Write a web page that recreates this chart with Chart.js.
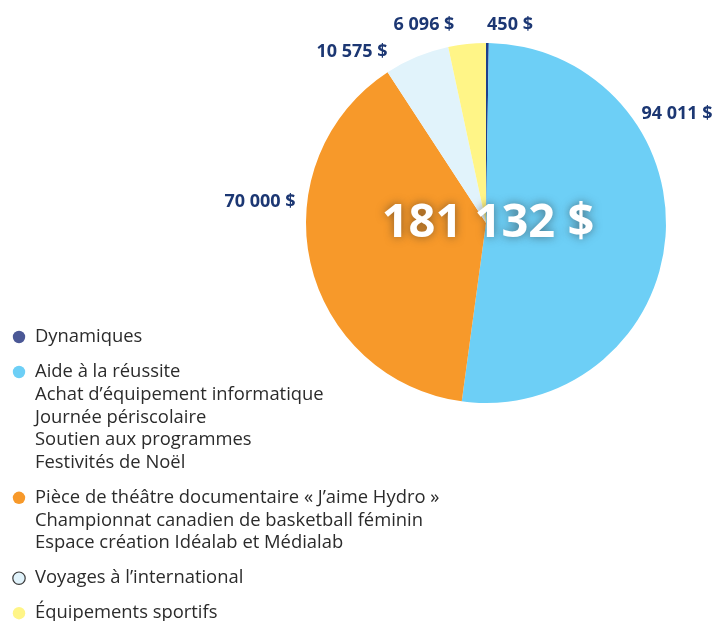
<!DOCTYPE html>
<html lang="fr">
<head>
<meta charset="utf-8">
<title>Dons 181 132 $</title>
<script src="https://cdn.jsdelivr.net/npm/chart.js@4/dist/chart.umd.min.js"></script>
<style>
  html, body { margin: 0; padding: 0; background: #fff; }
  #chart { display: block; }
</style>
</head>
<body>
<canvas id="chart" width="728" height="621"></canvas>
<script>
// data, clockwise from 12 o'clock
const categories = [
  'Dynamiques',
  'Aide à la réussite',
  'Pièce de théâtre documentaire « J’aime Hydro »',
  'Voyages à l’international',
  'Équipements sportifs'
]
const subItems = [
  [],
  ['Achat d’équipement informatique', 'Journée périscolaire', 'Soutien aux programmes', 'Festivités de Noël'],
  ['Championnat canadien de basketball féminin', 'Espace création Idéalab et Médialab'],
  [],
  []
]
const amounts = [450, 94011, 70000, 10575, 6096]

// styling / layout, kept apart from the values
const sliceColors = ['#1d3f8c', '#6dcff6', '#f7992a', '#e1f3fb', '#fff587']
const markerColors = ['#4b5896', '#6dcff6', '#f7992a', '#e1f3fb', '#fff587']
const markerBorders = [null, null, null, '#3a3a3a', null]
// text centre of each amount label, relative to the pie centre
const labelOffsets = [[24, -198], [191, -109], [-226, -21], [-134, -171], [-62, -198]]

const money = (n) => String(n).replace(/\B(?=(\d{3})+(?!\d))/g, ' ') + ' $'

const overlay = {
  id: 'overlay',
  afterDraw (chart) {
    const ctx = chart.ctx
    const arc = chart.getDatasetMeta(0).data[0]
    const cx = arc.x
    const cy = arc.y
    const values = chart.data.datasets[0].data

    ctx.save()
    // amount labels
    ctx.fillStyle = '#1c3773'
    ctx.font = 'bold 18px "Open Sans"'
    ctx.textAlign = 'center'
    ctx.textBaseline = 'middle'
    values.forEach((v, i) => {
      const off = labelOffsets[i]
      ctx.fillText(money(v), cx + off[0], cy + off[1])
    })

    // total in the middle
    const total = values.reduce((a, b) => a + b, 0)
    ctx.font = 'bold 47px "Open Sans"'
    ctx.shadowColor = 'rgba(40, 40, 40, 0.55)'
    ctx.shadowBlur = 10
    ctx.fillStyle = '#ffffff'
    ctx.fillText(money(total), cx + 2, cy + 1)
    ctx.restore()

    // legend, bottom left
    ctx.save()
    ctx.font = '18.4px "Open Sans"'
    ctx.textAlign = 'left'
    ctx.textBaseline = 'middle'
    let y = 337
    const lineGap = 22.7
    const groupGap = 35
    chart.data.labels.forEach((label, i) => {
      ctx.beginPath()
      ctx.arc(19, y, 6.2, 0, Math.PI * 2)
      ctx.fillStyle = markerColors[i]
      ctx.fill()
      if (markerBorders[i]) {
        ctx.lineWidth = 1.2
        ctx.strokeStyle = markerBorders[i]
        ctx.stroke()
      }
      ctx.fillStyle = '#2b2b2b'
      const lines = [label].concat(subItems[i])
      lines.forEach((t, k) => {
        ctx.fillText(t, 35, y + k * lineGap)
      })
      y += (lines.length - 1) * lineGap + groupGap
    })
    ctx.restore()
  }
}

new Chart(document.getElementById('chart'), { // eslint-disable-line
  type: 'pie',
  data: {
    labels: categories,
    datasets: [{
      data: amounts,
      backgroundColor: sliceColors,
      borderWidth: 0
    }]
  },
  options: {
    responsive: false,
    devicePixelRatio: 1,
    animation: false,
    layout: {
      padding: { left: 306, right: 62, top: 43, bottom: 218 }
    },
    plugins: {
      legend: { display: false },
      tooltip: { enabled: false }
    }
  },
  plugins: [overlay]
})
</script>
</body>
</html>
